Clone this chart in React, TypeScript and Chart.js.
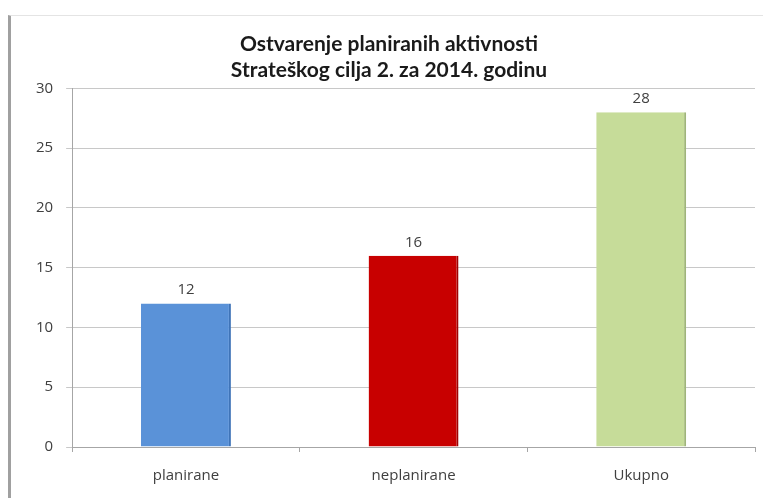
import React, { useEffect, useRef } from "react";
import { Chart, registerables } from "chart.js";

Chart.register(...registerables);

const categories = ["planirane", "neplanirane", "Ukupno"];
const values = [12, 16, 28];
const barColors = ["#5a92d8", "#c80000", "#c6dc99"];
const barEdges = ["#3f74b8", "#a00000", "#9fb57a"];
const titleLines = ["Ostvarenje planiranih aktivnosti", "Strateškog cilja 2. za 2014. godinu"];
const yTicks = { min: 0, max: 30, step: 5 };

const FONT = "Lato, 'Noto Sans', sans-serif";
const WIDE = "'Open Sans', 'Noto Sans', sans-serif";

const valueLabels = {
  id: "valueLabels",
  afterDatasetsDraw(chart: any) {
    const ctx = chart.ctx;
    const meta = chart.getDatasetMeta(0);
    ctx.save();
    ctx.fillStyle = "#404040";
    ctx.font = `15px ${WIDE}`;
    ctx.textAlign = "center";
    ctx.textBaseline = "bottom";
    meta.data.forEach((bar: any, i: number) => {
      ctx.fillText(String(values[i]), bar.x, bar.y - 6);
    });
    ctx.restore();
  },
};

export default function App() {
  const ref = useRef<HTMLCanvasElement | null>(null);
  useEffect(() => {
    if (!ref.current) return;
    const chart = new Chart(ref.current, {
      type: "bar",
      data: {
        labels: categories,
        datasets: [
          {
            data: values,
            backgroundColor: barColors,
            borderColor: barEdges,
            borderWidth: { left: 0, right: 2, top: 0, bottom: 0 } as any,
            barPercentage: 0.395,
            categoryPercentage: 1,
          },
        ],
      },
      options: {
        animation: false,
        responsive: false,
        maintainAspectRatio: false,
        layout: { padding: { left: 23, right: 8, top: 32, bottom: 4 } },
        plugins: {
          legend: { display: false },
          tooltip: { enabled: false },
          title: {
            display: true,
            text: titleLines,
            color: "#1a1a1a",
            font: { family: FONT, size: 21, weight: "bold" },
            lineHeight: 1.2,
            padding: { top: 0, bottom: 6 },
          },
        },
        scales: {
          x: {
            grid: {
              display: true,
              drawOnChartArea: false,
              drawTicks: true,
              tickLength: 5,
              color: "#a6a6a6",
              offset: true,
            },
            border: { color: "#a6a6a6" },
            ticks: { color: "#404040", font: { family: WIDE, size: 15 }, padding: 15 },
          },
          y: {
            min: yTicks.min,
            max: yTicks.max,
            grid: { color: "#c8c8c8", tickLength: 6 },
            border: { color: "#a6a6a6" },
            ticks: {
              stepSize: yTicks.step,
              color: "#404040",
              font: { family: WIDE, size: 15 },
              padding: 13,
            },
          },
        },
      },
      plugins: [valueLabels],
    });
    return () => chart.destroy();
  }, []);
  return (
    <div
      style={{
        position: "fixed",
        left: 0,
        top: 0,
        width: 763,
        height: 498,
        background: "#fff",
        overflow: "hidden",
      }}
    >
      <div
        style={{
          position: "absolute",
          left: 8,
          top: 15,
          right: 0,
          bottom: 0,
          borderLeft: "3px solid #a0a0a0",
          borderTop: "1px solid #e4e4e4",
        }}
      />
      <canvas ref={ref} width={763} height={504} style={{ position: "absolute", left: 0, top: 0 }} />
    </div>
  );
}
